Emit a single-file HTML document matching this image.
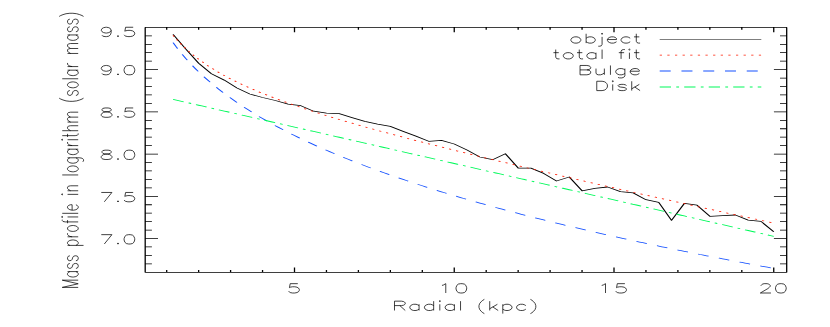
<!DOCTYPE html>
<html><head><meta charset="utf-8"><title>Mass profile</title>
<style>
html,body{margin:0;padding:0;background:#fff;font-family:"Liberation Sans",sans-serif;}
svg{display:block}
</style></head><body>
<svg width="830" height="327" viewBox="0 0 830 327">
<rect width="830" height="327" fill="#fff"/>
<g transform="scale(1.3,0.7715)" fill="none" stroke-linecap="butt" stroke-linejoin="round">
<path d="M111.69 35.52 L605.15 35.52 L605.15 352.95 L111.69 352.95 L111.69 35.52Z M128.23 352.95 L128.23 349.84 M128.23 35.52 L128.23 38.63 M152.81 352.95 L152.81 349.84 M152.81 35.52 L152.81 38.63 M177.38 352.95 L177.38 349.84 M177.38 35.52 L177.38 38.63 M201.96 352.95 L201.96 349.84 M201.96 35.52 L201.96 38.63 M226.54 352.95 L226.54 346.6 M226.54 35.52 L226.54 41.87 M251.12 352.95 L251.12 349.84 M251.12 35.52 L251.12 38.63 M275.69 352.95 L275.69 349.84 M275.69 35.52 L275.69 38.63 M300.27 352.95 L300.27 349.84 M300.27 35.52 L300.27 38.63 M324.85 352.95 L324.85 349.84 M324.85 35.52 L324.85 38.63 M349.42 352.95 L349.42 346.6 M349.42 35.52 L349.42 41.87 M374 352.95 L374 349.84 M374 35.52 L374 38.63 M398.58 352.95 L398.58 349.84 M398.58 35.52 L398.58 38.63 M423.15 352.95 L423.15 349.84 M423.15 35.52 L423.15 38.63 M447.73 352.95 L447.73 349.84 M447.73 35.52 L447.73 38.63 M472.31 352.95 L472.31 346.6 M472.31 35.52 L472.31 41.87 M496.88 352.95 L496.88 349.84 M496.88 35.52 L496.88 38.63 M521.46 352.95 L521.46 349.84 M521.46 35.52 L521.46 38.63 M546.04 352.95 L546.04 349.84 M546.04 35.52 L546.04 38.63 M570.62 352.95 L570.62 349.84 M570.62 35.52 L570.62 38.63 M595.19 352.95 L595.19 346.6 M595.19 35.52 L595.19 41.87 M111.69 342.01 L116.85 342.01 M605.15 342.01 L600 342.01 M111.69 331.06 L116.85 331.06 M605.15 331.06 L600 331.06 M111.69 320.12 L116.85 320.12 M605.15 320.12 L600 320.12 M111.69 309.17 L121.54 309.17 M605.15 309.17 L595.31 309.17 M111.69 298.22 L116.85 298.22 M605.15 298.22 L600 298.22 M111.69 287.28 L116.85 287.28 M605.15 287.28 L600 287.28 M111.69 276.33 L116.85 276.33 M605.15 276.33 L600 276.33 M111.69 265.39 L116.85 265.39 M605.15 265.39 L600 265.39 M111.69 254.44 L121.54 254.44 M605.15 254.44 L595.31 254.44 M111.69 243.49 L116.85 243.49 M605.15 243.49 L600 243.49 M111.69 232.55 L116.85 232.55 M605.15 232.55 L600 232.55 M111.69 221.6 L116.85 221.6 M605.15 221.6 L600 221.6 M111.69 210.65 L116.85 210.65 M605.15 210.65 L600 210.65 M111.69 199.71 L121.54 199.71 M605.15 199.71 L595.31 199.71 M111.69 188.76 L116.85 188.76 M605.15 188.76 L600 188.76 M111.69 177.82 L116.85 177.82 M605.15 177.82 L600 177.82 M111.69 166.87 L116.85 166.87 M605.15 166.87 L600 166.87 M111.69 155.92 L116.85 155.92 M605.15 155.92 L600 155.92 M111.69 144.98 L121.54 144.98 M605.15 144.98 L595.31 144.98 M111.69 134.03 L116.85 134.03 M605.15 134.03 L600 134.03 M111.69 123.08 L116.85 123.08 M605.15 123.08 L600 123.08 M111.69 112.14 L116.85 112.14 M605.15 112.14 L600 112.14 M111.69 101.19 L116.85 101.19 M605.15 101.19 L600 101.19 M111.69 90.25 L121.54 90.25 M605.15 90.25 L595.31 90.25 M111.69 79.3 L116.85 79.3 M605.15 79.3 L600 79.3 M111.69 68.35 L116.85 68.35 M605.15 68.35 L600 68.35 M111.69 57.41 L116.85 57.41 M605.15 57.41 L600 57.41 M111.69 46.46 L116.85 46.46 M605.15 46.46 L600 46.46" stroke="#000" stroke-width="1" />
<path d="M85.51 39.36 L84.92 41.1 L83.75 42.25 L82 42.83 L81.42 42.83 L79.66 42.25 L78.49 41.1 L77.91 39.36 L77.91 38.79 L78.49 37.06 L79.66 35.9 L81.42 35.33 L82 35.33 L83.75 35.9 L84.92 37.06 L85.51 39.36 L85.51 42.25 L84.92 45.13 L83.75 46.86 L82 47.44 L80.83 47.44 L79.08 46.86 L78.49 45.71 M90.77 46.29 L90.18 46.86 L90.77 47.44 L91.35 46.86 L90.77 46.29 M102.46 35.33 L96.62 35.33 L96.03 40.52 L96.62 39.94 L98.37 39.36 L100.12 39.36 L101.88 39.94 L103.05 41.1 L103.63 42.83 L103.63 43.98 L103.05 45.71 L101.88 46.86 L100.12 47.44 L98.37 47.44 L96.62 46.86 L96.03 46.29 L95.45 45.13 M85.51 88.88 L84.92 90.61 L83.75 91.76 L82 92.34 L81.42 92.34 L79.66 91.76 L78.49 90.61 L77.91 88.88 L77.91 88.3 L78.49 86.57 L79.66 85.42 L81.42 84.84 L82 84.84 L83.75 85.42 L84.92 86.57 L85.51 88.88 L85.51 91.76 L84.92 94.65 L83.75 96.38 L82 96.95 L80.83 96.95 L79.08 96.38 L78.49 95.22 M90.77 95.8 L90.18 96.38 L90.77 96.95 L91.35 96.38 L90.77 95.8 M98.95 84.84 L97.2 85.42 L96.03 87.15 L95.45 90.03 L95.45 91.76 L96.03 94.65 L97.2 96.38 L98.95 96.95 L100.12 96.95 L101.88 96.38 L103.05 94.65 L103.63 91.76 L103.63 90.03 L103.05 87.15 L101.88 85.42 L100.12 84.84 L98.95 84.84 M80.83 139.93 L79.08 140.51 L78.49 141.66 L78.49 142.81 L79.08 143.97 L80.25 144.54 L82.58 145.12 L84.34 145.7 L85.51 146.85 L86.09 148 L86.09 149.73 L85.51 150.89 L84.92 151.46 L83.17 152.04 L80.83 152.04 L79.08 151.46 L78.49 150.89 L77.91 149.73 L77.91 148 L78.49 146.85 L79.66 145.7 L81.42 145.12 L83.75 144.54 L84.92 143.97 L85.51 142.81 L85.51 141.66 L84.92 140.51 L83.17 139.93 L80.83 139.93 M90.77 150.89 L90.18 151.46 L90.77 152.04 L91.35 151.46 L90.77 150.89 M102.46 139.93 L96.62 139.93 L96.03 145.12 L96.62 144.54 L98.37 143.97 L100.12 143.97 L101.88 144.54 L103.05 145.7 L103.63 147.43 L103.63 148.58 L103.05 150.31 L101.88 151.46 L100.12 152.04 L98.37 152.04 L96.62 151.46 L96.03 150.89 L95.45 149.73 M80.83 194.63 L79.08 195.2 L78.49 196.36 L78.49 197.51 L79.08 198.66 L80.25 199.24 L82.58 199.82 L84.34 200.4 L85.51 201.55 L86.09 202.7 L86.09 204.43 L85.51 205.59 L84.92 206.16 L83.17 206.74 L80.83 206.74 L79.08 206.16 L78.49 205.59 L77.91 204.43 L77.91 202.7 L78.49 201.55 L79.66 200.4 L81.42 199.82 L83.75 199.24 L84.92 198.66 L85.51 197.51 L85.51 196.36 L84.92 195.2 L83.17 194.63 L80.83 194.63 M90.77 205.59 L90.18 206.16 L90.77 206.74 L91.35 206.16 L90.77 205.59 M98.95 194.63 L97.2 195.2 L96.03 196.93 L95.45 199.82 L95.45 201.55 L96.03 204.43 L97.2 206.16 L98.95 206.74 L100.12 206.74 L101.88 206.16 L103.05 204.43 L103.63 201.55 L103.63 199.82 L103.05 196.93 L101.88 195.2 L100.12 194.63 L98.95 194.63 M86.09 249.46 L80.25 261.57 M77.91 249.46 L86.09 249.46 M90.77 260.41 L90.18 260.99 L90.77 261.57 L91.35 260.99 L90.77 260.41 M102.46 249.46 L96.62 249.46 L96.03 254.65 L96.62 254.07 L98.37 253.49 L100.12 253.49 L101.88 254.07 L103.05 255.22 L103.63 256.95 L103.63 258.11 L103.05 259.84 L101.88 260.99 L100.12 261.57 L98.37 261.57 L96.62 260.99 L96.03 260.41 L95.45 259.26 M86.09 304.15 L80.25 316.27 M77.91 304.15 L86.09 304.15 M90.77 315.11 L90.18 315.69 L90.77 316.27 L91.35 315.69 L90.77 315.11 M98.95 304.15 L97.2 304.73 L96.03 306.46 L95.45 309.35 L95.45 311.08 L96.03 313.96 L97.2 315.69 L98.95 316.27 L100.12 316.27 L101.88 315.69 L103.05 313.96 L103.63 311.08 L103.63 309.35 L103.05 306.46 L101.88 304.73 L100.12 304.15 L98.95 304.15 M229.08 367.67 L223.23 367.67 L222.65 372.86 L223.23 372.28 L224.98 371.7 L226.74 371.7 L228.49 372.28 L229.66 373.43 L230.25 375.17 L230.25 376.32 L229.66 378.05 L228.49 379.2 L226.74 379.78 L224.98 379.78 L223.23 379.2 L222.65 378.63 L222.06 377.47 M339.98 369.97 L341.15 369.4 L342.9 367.67 L342.9 379.78 M354.3 367.67 L352.55 368.24 L351.38 369.97 L350.79 372.86 L350.79 374.59 L351.38 377.47 L352.55 379.2 L354.3 379.78 L355.47 379.78 L357.22 379.2 L358.39 377.47 L358.98 374.59 L358.98 372.86 L358.39 369.97 L357.22 368.24 L355.47 367.67 L354.3 367.67 M462.86 369.97 L464.03 369.4 L465.78 367.67 L465.78 379.78 M480.69 367.67 L474.85 367.67 L474.26 372.86 L474.85 372.28 L476.6 371.7 L478.35 371.7 L480.11 372.28 L481.28 373.43 L481.86 375.17 L481.86 376.32 L481.28 378.05 L480.11 379.2 L478.35 379.78 L476.6 379.78 L474.85 379.2 L474.26 378.63 L473.68 377.47 M585.45 370.55 L585.45 369.97 L586.04 368.82 L586.62 368.24 L587.79 367.67 L590.13 367.67 L591.3 368.24 L591.88 368.82 L592.47 369.97 L592.47 371.13 L591.88 372.28 L590.72 374.01 L584.87 379.78 L593.05 379.78 M600.07 367.67 L598.32 368.24 L597.15 369.97 L596.56 372.86 L596.56 374.59 L597.15 377.47 L598.32 379.2 L600.07 379.78 L601.24 379.78 L602.99 379.2 L604.16 377.47 L604.75 374.59 L604.75 372.86 L604.16 369.97 L602.99 368.24 L601.24 367.67 L600.07 367.67 M303.46 390.35 L303.46 402.46 M303.46 390.35 L308.77 390.35 L310.55 390.93 L311.14 391.5 L311.73 392.66 L311.73 393.81 L311.14 394.96 L310.55 395.54 L308.77 396.12 L303.46 396.12 M307.59 396.12 L311.73 402.46 M322.36 394.39 L322.36 402.46 M322.36 396.12 L321.18 394.96 L320 394.39 L318.23 394.39 L317.04 394.96 L315.86 396.12 L315.27 397.85 L315.27 399 L315.86 400.73 L317.04 401.89 L318.23 402.46 L320 402.46 L321.18 401.89 L322.36 400.73 M333.59 390.35 L333.59 402.46 M333.59 396.12 L332.4 394.96 L331.22 394.39 L329.45 394.39 L328.27 394.96 L327.09 396.12 L326.5 397.85 L326.5 399 L327.09 400.73 L328.27 401.89 L329.45 402.46 L331.22 402.46 L332.4 401.89 L333.59 400.73 M337.72 390.35 L338.31 390.93 L338.9 390.35 L338.31 389.77 L337.72 390.35 M338.31 394.39 L338.31 402.46 M349.54 394.39 L349.54 402.46 M349.54 396.12 L348.36 394.96 L347.17 394.39 L345.4 394.39 L344.22 394.96 L343.04 396.12 L342.45 397.85 L342.45 399 L343.04 400.73 L344.22 401.89 L345.4 402.46 L347.17 402.46 L348.36 401.89 L349.54 400.73 M354.26 390.35 L354.26 402.46 M372.58 388.04 L371.4 389.2 L370.21 390.93 L369.03 393.23 L368.44 396.12 L368.44 398.43 L369.03 401.31 L370.21 403.62 L371.4 405.35 L372.58 406.5 M376.71 390.35 L376.71 402.46 M382.62 394.39 L376.71 400.16 M379.08 397.85 L383.21 402.46 M386.76 394.39 L386.76 406.5 M386.76 396.12 L387.94 394.96 L389.12 394.39 L390.89 394.39 L392.07 394.96 L393.25 396.12 L393.84 397.85 L393.84 399 L393.25 400.73 L392.07 401.89 L390.89 402.46 L389.12 402.46 L387.94 401.89 L386.76 400.73 M404.48 396.12 L403.3 394.96 L402.12 394.39 L400.34 394.39 L399.16 394.96 L397.98 396.12 L397.39 397.85 L397.39 399 L397.98 400.73 L399.16 401.89 L400.34 402.46 L402.12 402.46 L403.3 401.89 L404.48 400.73 M408.02 388.04 L409.2 389.2 L410.39 390.93 L411.57 393.23 L412.16 396.12 L412.16 398.43 L411.57 401.31 L410.39 403.62 L409.2 405.35 L408.02 406.5 M47.88 372.51 L60.15 372.51 M47.88 372.51 L60.15 367.83 M47.88 363.15 L60.15 367.83 M47.88 363.15 L60.15 363.15 M51.97 352.03 L60.15 352.03 M53.72 352.03 L52.55 353.2 L51.97 354.37 L51.97 356.12 L52.55 357.29 L53.72 358.46 L55.48 359.05 L56.65 359.05 L58.4 358.46 L59.57 357.29 L60.15 356.12 L60.15 354.37 L59.57 353.2 L58.4 352.03 M53.72 341.49 L52.55 342.07 L51.97 343.83 L51.97 345.59 L52.55 347.34 L53.72 347.93 L54.89 347.34 L55.48 346.17 L56.06 343.25 L56.65 342.07 L57.82 341.49 L58.4 341.49 L59.57 342.07 L60.15 343.83 L60.15 345.59 L59.57 347.34 L58.4 347.93 M53.72 331.54 L52.55 332.12 L51.97 333.88 L51.97 335.64 L52.55 337.39 L53.72 337.98 L54.89 337.39 L55.48 336.22 L56.06 333.29 L56.65 332.12 L57.82 331.54 L58.4 331.54 L59.57 332.12 L60.15 333.88 L60.15 335.64 L59.57 337.39 L58.4 337.98 M51.97 318.07 L64.25 318.07 M53.72 318.07 L52.55 316.9 L51.97 315.73 L51.97 313.98 L52.55 312.81 L53.72 311.64 L55.48 311.05 L56.65 311.05 L58.4 311.64 L59.57 312.81 L60.15 313.98 L60.15 315.73 L59.57 316.9 L58.4 318.07 M51.97 306.95 L60.15 306.95 M55.48 306.95 L53.72 306.37 L52.55 305.2 L51.97 304.03 L51.97 302.27 M51.97 297 L52.55 298.17 L53.72 299.34 L55.48 299.93 L56.65 299.93 L58.4 299.34 L59.57 298.17 L60.15 297 L60.15 295.25 L59.57 294.08 L58.4 292.9 L56.65 292.32 L55.48 292.32 L53.72 292.9 L52.55 294.08 L51.97 295.25 L51.97 297 M47.88 284.71 L47.88 285.88 L48.46 287.05 L50.22 287.64 L60.15 287.64 M51.97 289.39 L51.97 285.3 M47.88 281.78 L48.46 281.2 L47.88 280.61 L47.29 281.2 L47.88 281.78 M51.97 281.2 L60.15 281.2 M47.88 276.51 L60.15 276.51 M55.48 272.42 L55.48 265.39 L54.31 265.39 L53.14 265.98 L52.55 266.56 L51.97 267.73 L51.97 269.49 L52.55 270.66 L53.72 271.83 L55.48 272.42 L56.65 272.42 L58.4 271.83 L59.57 270.66 L60.15 269.49 L60.15 267.73 L59.57 266.56 L58.4 265.39 M47.88 252.52 L48.46 251.93 L47.88 251.34 L47.29 251.93 L47.88 252.52 M51.97 251.93 L60.15 251.93 M51.97 247.25 L60.15 247.25 M54.31 247.25 L52.55 245.49 L51.97 244.32 L51.97 242.56 L52.55 241.39 L54.31 240.81 L60.15 240.81 M47.88 226.76 L60.15 226.76 M51.97 219.74 L52.55 220.91 L53.72 222.08 L55.48 222.66 L56.65 222.66 L58.4 222.08 L59.57 220.91 L60.15 219.74 L60.15 217.98 L59.57 216.81 L58.4 215.64 L56.65 215.05 L55.48 215.05 L53.72 215.64 L52.55 216.81 L51.97 217.98 L51.97 219.74 M51.97 204.52 L61.32 204.52 L63.08 205.1 L63.66 205.69 L64.25 206.86 L64.25 208.61 L63.66 209.78 M53.72 204.52 L52.55 205.69 L51.97 206.86 L51.97 208.61 L52.55 209.78 L53.72 210.96 L55.48 211.54 L56.65 211.54 L58.4 210.96 L59.57 209.78 L60.15 208.61 L60.15 206.86 L59.57 205.69 L58.4 204.52 M51.97 193.39 L60.15 193.39 M53.72 193.39 L52.55 194.57 L51.97 195.74 L51.97 197.49 L52.55 198.66 L53.72 199.83 L55.48 200.42 L56.65 200.42 L58.4 199.83 L59.57 198.66 L60.15 197.49 L60.15 195.74 L59.57 194.57 L58.4 193.39 M51.97 188.71 L60.15 188.71 M55.48 188.71 L53.72 188.13 L52.55 186.96 L51.97 185.79 L51.97 184.03 M47.88 181.69 L48.46 181.1 L47.88 180.52 L47.29 181.1 L47.88 181.69 M51.97 181.1 L60.15 181.1 M47.88 175.83 L57.82 175.83 L59.57 175.25 L60.15 174.08 L60.15 172.91 M51.97 177.59 L51.97 173.49 M47.88 169.4 L60.15 169.4 M54.31 169.4 L52.55 167.64 L51.97 166.47 L51.97 164.71 L52.55 163.54 L54.31 162.96 L60.15 162.96 M51.97 158.27 L60.15 158.27 M54.31 158.27 L52.55 156.52 L51.97 155.35 L51.97 153.59 L52.55 152.42 L54.31 151.83 L60.15 151.83 M54.31 151.83 L52.55 150.08 L51.97 148.91 L51.97 147.15 L52.55 145.98 L54.31 145.4 L60.15 145.4 M45.54 127.25 L46.71 128.42 L48.46 129.59 L50.8 130.76 L53.72 131.35 L56.06 131.35 L58.98 130.76 L61.32 129.59 L63.08 128.42 L64.25 127.25 M53.72 117.3 L52.55 117.88 L51.97 119.64 L51.97 121.4 L52.55 123.15 L53.72 123.74 L54.89 123.15 L55.48 121.98 L56.06 119.05 L56.65 117.88 L57.82 117.3 L58.4 117.3 L59.57 117.88 L60.15 119.64 L60.15 121.4 L59.57 123.15 L58.4 123.74 M51.97 110.86 L52.55 112.03 L53.72 113.2 L55.48 113.79 L56.65 113.79 L58.4 113.2 L59.57 112.03 L60.15 110.86 L60.15 109.1 L59.57 107.93 L58.4 106.76 L56.65 106.18 L55.48 106.18 L53.72 106.76 L52.55 107.93 L51.97 109.1 L51.97 110.86 M47.88 102.08 L60.15 102.08 M51.97 90.96 L60.15 90.96 M53.72 90.96 L52.55 92.13 L51.97 93.3 L51.97 95.06 L52.55 96.23 L53.72 97.4 L55.48 97.98 L56.65 97.98 L58.4 97.4 L59.57 96.23 L60.15 95.06 L60.15 93.3 L59.57 92.13 L58.4 90.96 M51.97 86.28 L60.15 86.28 M55.48 86.28 L53.72 85.69 L52.55 84.52 L51.97 83.35 L51.97 81.59 M51.97 69.3 L60.15 69.3 M54.31 69.3 L52.55 67.54 L51.97 66.37 L51.97 64.62 L52.55 63.45 L54.31 62.86 L60.15 62.86 M54.31 62.86 L52.55 61.1 L51.97 59.93 L51.97 58.18 L52.55 57.01 L54.31 56.42 L60.15 56.42 M51.97 45.3 L60.15 45.3 M53.72 45.3 L52.55 46.47 L51.97 47.64 L51.97 49.4 L52.55 50.57 L53.72 51.74 L55.48 52.32 L56.65 52.32 L58.4 51.74 L59.57 50.57 L60.15 49.4 L60.15 47.64 L59.57 46.47 L58.4 45.3 M53.72 34.76 L52.55 35.35 L51.97 37.11 L51.97 38.86 L52.55 40.62 L53.72 41.2 L54.89 40.62 L55.48 39.45 L56.06 36.52 L56.65 35.35 L57.82 34.76 L58.4 34.76 L59.57 35.35 L60.15 37.11 L60.15 38.86 L59.57 40.62 L58.4 41.2 M53.72 24.81 L52.55 25.4 L51.97 27.15 L51.97 28.91 L52.55 30.67 L53.72 31.25 L54.89 30.67 L55.48 29.5 L56.06 26.57 L56.65 25.4 L57.82 24.81 L58.4 24.81 L59.57 25.4 L60.15 27.15 L60.15 28.91 L59.57 30.67 L58.4 31.25 M45.54 21.3 L46.71 20.13 L48.46 18.96 L50.8 17.79 L53.72 17.2 L56.06 17.2 L58.98 17.79 L61.32 18.96 L63.08 20.13 L64.25 21.3 M442.09 47.79 L440.92 48.37 L439.75 49.52 L439.17 51.25 L439.17 52.4 L439.75 54.13 L440.92 55.29 L442.09 55.87 L443.85 55.87 L445.02 55.29 L446.18 54.13 L446.77 52.4 L446.77 51.25 L446.18 49.52 L445.02 48.37 L443.85 47.79 L442.09 47.79 M450.86 43.75 L450.86 55.87 M450.86 49.52 L452.03 48.37 L453.2 47.79 L454.95 47.79 L456.12 48.37 L457.29 49.52 L457.88 51.25 L457.88 52.4 L457.29 54.13 L456.12 55.29 L454.95 55.87 L453.2 55.87 L452.03 55.29 L450.86 54.13 M462.55 43.75 L463.14 44.33 L463.72 43.75 L463.14 43.18 L462.55 43.75 M463.14 47.79 L463.14 57.6 L462.55 59.33 L461.38 59.9 L460.22 59.9 M467.23 51.25 L474.25 51.25 L474.25 50.1 L473.66 48.94 L473.08 48.37 L471.91 47.79 L470.15 47.79 L468.98 48.37 L467.82 49.52 L467.23 51.25 L467.23 52.4 L467.82 54.13 L468.98 55.29 L470.15 55.87 L471.91 55.87 L473.08 55.29 L474.25 54.13 M484.77 49.52 L483.6 48.37 L482.43 47.79 L480.68 47.79 L479.51 48.37 L478.34 49.52 L477.75 51.25 L477.75 52.4 L478.34 54.13 L479.51 55.29 L480.68 55.87 L482.43 55.87 L483.6 55.29 L484.77 54.13 M489.45 43.75 L489.45 53.56 L490.03 55.29 L491.2 55.87 L492.37 55.87 M487.69 47.79 L491.78 47.79 M427.48 64.23 L427.48 74.04 L428.06 75.77 L429.23 76.34 L430.4 76.34 M425.72 68.27 L429.82 68.27 M436.25 68.27 L435.08 68.85 L433.91 70 L433.32 71.73 L433.32 72.88 L433.91 74.61 L435.08 75.77 L436.25 76.34 L438 76.34 L439.17 75.77 L440.34 74.61 L440.92 72.88 L440.92 71.73 L440.34 70 L439.17 68.85 L438 68.27 L436.25 68.27 M445.6 64.23 L445.6 74.04 L446.18 75.77 L447.35 76.34 L448.52 76.34 M443.85 68.27 L447.94 68.27 M458.46 68.27 L458.46 76.34 M458.46 70 L457.29 68.85 L456.12 68.27 L454.37 68.27 L453.2 68.85 L452.03 70 L451.45 71.73 L451.45 72.88 L452.03 74.61 L453.2 75.77 L454.37 76.34 L456.12 76.34 L457.29 75.77 L458.46 74.61 M463.14 64.23 L463.14 76.34 M480.68 64.23 L479.51 64.23 L478.34 64.81 L477.75 66.54 L477.75 76.34 M476 68.27 L480.09 68.27 M483.6 64.23 L484.18 64.81 L484.77 64.23 L484.18 63.66 L483.6 64.23 M484.18 68.27 L484.18 76.34 M489.45 64.23 L489.45 74.04 L490.03 75.77 L491.2 76.34 L492.37 76.34 M487.69 68.27 L491.78 68.27 M446.18 84.84 L446.18 96.95 M446.18 84.84 L451.45 84.84 L453.2 85.42 L453.78 85.99 L454.37 87.15 L454.37 88.3 L453.78 89.46 L453.2 90.03 L451.45 90.61 M446.18 90.61 L451.45 90.61 L453.2 91.19 L453.78 91.76 L454.37 92.92 L454.37 94.65 L453.78 95.8 L453.2 96.38 L451.45 96.95 L446.18 96.95 M458.46 88.88 L458.46 94.65 L459.05 96.38 L460.22 96.95 L461.97 96.95 L463.14 96.38 L464.89 94.65 M464.89 88.88 L464.89 96.95 M469.57 84.84 L469.57 96.95 M480.68 88.88 L480.68 98.11 L480.09 99.84 L479.51 100.41 L478.34 100.99 L476.58 100.99 L475.42 100.41 M480.68 90.61 L479.51 89.46 L478.34 88.88 L476.58 88.88 L475.42 89.46 L474.25 90.61 L473.66 92.34 L473.66 93.49 L474.25 95.22 L475.42 96.38 L476.58 96.95 L478.34 96.95 L479.51 96.38 L480.68 95.22 M484.77 92.34 L491.78 92.34 L491.78 91.19 L491.2 90.03 L490.62 89.46 L489.45 88.88 L487.69 88.88 L486.52 89.46 L485.35 90.61 L484.77 92.34 L484.77 93.49 L485.35 95.22 L486.52 96.38 L487.69 96.95 L489.45 96.95 L490.62 96.38 L491.78 95.22 M459.05 105.32 L459.05 117.43 M459.05 105.32 L463.14 105.32 L464.89 105.9 L466.06 107.05 L466.65 108.2 L467.23 109.94 L467.23 112.82 L466.65 114.55 L466.06 115.7 L464.89 116.86 L463.14 117.43 L459.05 117.43 M470.74 105.32 L471.32 105.9 L471.91 105.32 L471.32 104.74 L470.74 105.32 M471.32 109.36 L471.32 117.43 M481.85 111.09 L481.26 109.94 L479.51 109.36 L477.75 109.36 L476 109.94 L475.42 111.09 L476 112.24 L477.17 112.82 L480.09 113.4 L481.26 113.97 L481.85 115.13 L481.85 115.7 L481.26 116.86 L479.51 117.43 L477.75 117.43 L476 116.86 L475.42 115.7 M485.94 105.32 L485.94 117.43 M491.78 109.36 L485.94 115.13 M488.28 112.82 L492.37 117.43" stroke="#000" stroke-width="0.72" />
<path d="M133.15 44.59 L142.98 63.64 L152.81 82.05 L162.64 95.66 L172.47 103.82 L182.3 114.06 L192.13 121.84 L201.96 126.38 L211.79 130.27 L221.62 134.93 L231.45 137.01 L241.28 144.13 L251.12 146.73 L260.95 147.38 L270.78 152.43 L280.61 157.23 L290.44 160.86 L300.27 163.84 L310.1 170.19 L319.93 176.41 L329.76 183.15 L339.59 181.98 L349.42 186.65 L359.25 194.43 L369.08 203.5 L378.92 207 L388.75 199.22 L398.58 217.76 L408.41 217.89 L418.24 224.76 L428.07 234.61 L437.9 229.42 L447.73 247.31 L457.56 244.07 L467.39 242.38 L477.22 248.48 L487.05 250.03 L496.88 258.85 L506.72 262.22 L516.55 285.55 L526.38 263.77 L536.21 265.98 L546.04 280.36 L555.87 279.46 L565.7 278.68 L575.53 285.29 L585.36 286.97 L595.19 300.45" stroke="#000" stroke-width="1" />
<path d="M133.15 45.93 L135.6 50.65 L138.06 55.06 L140.52 59.2 L142.98 63.09 L145.43 66.78 L147.89 70.27 L150.35 73.58 L152.81 76.75 L155.27 79.76 L157.72 82.65 L160.18 85.43 L162.64 88.09 L165.1 90.65 L167.55 93.13 L170.01 95.51 L172.47 97.82 L174.93 100.06 L177.38 102.23 L179.84 104.33 L182.3 106.38 L184.76 108.37 L187.22 110.31 L189.67 112.21 L192.13 114.05 L194.59 115.86 L197.05 117.63 L199.5 119.36 L201.96 121.05 L204.42 122.71 L206.88 124.34 L209.33 125.94 L211.79 127.51 L214.25 129.06 L216.71 130.58 L219.17 132.08 L221.62 133.55 L224.08 135.01 L226.54 136.44 L229 137.86 L231.45 139.25 L233.91 140.63 L236.37 141.99 L238.83 143.34 L241.28 144.67 L243.74 145.99 L246.2 147.29 L248.66 148.58 L251.12 149.86 L253.57 151.13 L256.03 152.38 L258.49 153.63 L260.95 154.86 L263.4 156.08 L265.86 157.3 L268.32 158.5 L270.78 159.69 L273.23 160.88 L275.69 162.06 L278.15 163.23 L280.61 164.39 L283.07 165.55 L285.52 166.7 L287.98 167.84 L290.44 168.98 L292.9 170.11 L295.35 171.23 L297.81 172.35 L300.27 173.46 L302.73 174.56 L305.18 175.66 L307.64 176.76 L310.1 177.85 L312.56 178.94 L315.02 180.02 L317.47 181.1 L319.93 182.17 L322.39 183.24 L324.85 184.3 L327.3 185.36 L329.76 186.42 L332.22 187.47 L334.68 188.52 L337.13 189.57 L339.59 190.61 L342.05 191.65 L344.51 192.68 L346.97 193.72 L349.42 194.75 L351.88 195.77 L354.34 196.8 L356.8 197.82 L359.25 198.84 L361.71 199.85 L364.17 200.87 L366.63 201.88 L369.08 202.89 L371.54 203.89 L374 204.89 L376.46 205.9 L378.92 206.89 L381.37 207.89 L383.83 208.89 L386.29 209.88 L388.75 210.87 L391.2 211.86 L393.66 212.84 L396.12 213.83 L398.58 214.81 L401.03 215.79 L403.49 216.77 L405.95 217.75 L408.41 218.72 L410.87 219.69 L413.32 220.67 L415.78 221.64 L418.24 222.61 L420.7 223.57 L423.15 224.54 L425.61 225.5 L428.07 226.46 L430.53 227.42 L432.98 228.38 L435.44 229.34 L437.9 230.3 L440.36 231.25 L442.82 232.21 L445.27 233.16 L447.73 234.11 L450.19 235.06 L452.65 236.01 L455.1 236.95 L457.56 237.9 L460.02 238.85 L462.48 239.79 L464.93 240.73 L467.39 241.67 L469.85 242.61 L472.31 243.55 L474.77 244.49 L477.22 245.42 L479.68 246.36 L482.14 247.29 L484.6 248.22 L487.05 249.15 L489.51 250.08 L491.97 251.01 L494.43 251.94 L496.88 252.87 L499.34 253.79 L501.8 254.72 L504.26 255.64 L506.72 256.57 L509.17 257.49 L511.63 258.41 L514.09 259.33 L516.55 260.25 L519 261.16 L521.46 262.08 L523.92 262.99 L526.38 263.91 L528.83 264.82 L531.29 265.74 L533.75 266.65 L536.21 267.56 L538.67 268.47 L541.12 269.37 L543.58 270.28 L546.04 271.19 L548.5 272.09 L550.95 273 L553.41 273.9 L555.87 274.8 L558.33 275.71 L560.78 276.61 L563.24 277.51 L565.7 278.41 L568.16 279.3 L570.62 280.2 L573.07 281.1 L575.53 281.99 L577.99 282.88 L580.45 283.78 L582.9 284.67 L585.36 285.56 L587.82 286.45 L590.28 287.34 L592.73 288.23 L595.19 289.11" stroke="#ff1a00" stroke-width="1" stroke-dasharray="1.75 4.115" stroke-dashoffset="0.1"/>
<path d="M133.15 55.26 L135.6 60.84 L138.06 66.12 L140.52 71.13 L142.98 75.9 L145.43 80.46 L147.89 84.83 L150.35 89.03 L152.81 93.07 L155.27 96.97 L157.72 100.73 L160.18 104.38 L162.64 107.9 L165.1 111.33 L167.55 114.65 L170.01 117.89 L172.47 121.04 L174.93 124.1 L177.38 127.1 L179.84 130.02 L182.3 132.87 L184.76 135.66 L187.22 138.39 L189.67 141.06 L192.13 143.67 L194.59 146.24 L197.05 148.75 L199.5 151.22 L201.96 153.64 L204.42 156.02 L206.88 158.35 L209.33 160.65 L211.79 162.9 L214.25 165.12 L216.71 167.31 L219.17 169.46 L221.62 171.58 L224.08 173.66 L226.54 175.72 L229 177.74 L231.45 179.74 L233.91 181.71 L236.37 183.65 L238.83 185.57 L241.28 187.46 L243.74 189.33 L246.2 191.17 L248.66 192.99 L251.12 194.79 L253.57 196.57 L256.03 198.32 L258.49 200.06 L260.95 201.78 L263.4 203.47 L265.86 205.15 L268.32 206.81 L270.78 208.45 L273.23 210.07 L275.69 211.68 L278.15 213.27 L280.61 214.84 L283.07 216.4 L285.52 217.94 L287.98 219.47 L290.44 220.99 L292.9 222.48 L295.35 223.97 L297.81 225.44 L300.27 226.9 L302.73 228.34 L305.18 229.77 L307.64 231.19 L310.1 232.6 L312.56 233.99 L315.02 235.37 L317.47 236.75 L319.93 238.1 L322.39 239.45 L324.85 240.79 L327.3 242.12 L329.76 243.43 L332.22 244.74 L334.68 246.03 L337.13 247.32 L339.59 248.6 L342.05 249.86 L344.51 251.12 L346.97 252.37 L349.42 253.61 L351.88 254.83 L354.34 256.06 L356.8 257.27 L359.25 258.47 L361.71 259.67 L364.17 260.85 L366.63 262.03 L369.08 263.2 L371.54 264.37 L374 265.52 L376.46 266.67 L378.92 267.81 L381.37 268.94 L383.83 270.07 L386.29 271.19 L388.75 272.3 L391.2 273.4 L393.66 274.5 L396.12 275.59 L398.58 276.68 L401.03 277.75 L403.49 278.82 L405.95 279.89 L408.41 280.95 L410.87 282 L413.32 283.05 L415.78 284.09 L418.24 285.12 L420.7 286.15 L423.15 287.17 L425.61 288.19 L428.07 289.2 L430.53 290.21 L432.98 291.21 L435.44 292.2 L437.9 293.19 L440.36 294.18 L442.82 295.16 L445.27 296.13 L447.73 297.1 L450.19 298.07 L452.65 299.03 L455.1 299.98 L457.56 300.93 L460.02 301.87 L462.48 302.81 L464.93 303.75 L467.39 304.68 L469.85 305.61 L472.31 306.53 L474.77 307.45 L477.22 308.36 L479.68 309.27 L482.14 310.17 L484.6 311.07 L487.05 311.97 L489.51 312.86 L491.97 313.75 L494.43 314.63 L496.88 315.51 L499.34 316.38 L501.8 317.26 L504.26 318.12 L506.72 318.99 L509.17 319.85 L511.63 320.7 L514.09 321.56 L516.55 322.4 L519 323.25 L521.46 324.09 L523.92 324.93 L526.38 325.76 L528.83 326.59 L531.29 327.42 L533.75 328.25 L536.21 329.07 L538.67 329.88 L541.12 330.7 L543.58 331.51 L546.04 332.31 L548.5 333.12 L550.95 333.92 L553.41 334.72 L555.87 335.51 L558.33 336.3 L560.78 337.09 L563.24 337.88 L565.7 338.66 L568.16 339.44 L570.62 340.21 L573.07 340.99 L575.53 341.76 L577.99 342.52 L580.45 343.29 L582.9 344.05 L585.36 344.81 L587.82 345.56 L590.28 346.32 L592.73 347.07 L595.19 347.81" stroke="#1450ff" stroke-width="1" stroke-dasharray="8.46 8.28"/>
<path d="M133.15 128.83 L135.6 129.78 L138.06 130.72 L140.52 131.66 L142.98 132.61 L145.43 133.55 L147.89 134.5 L150.35 135.44 L152.81 136.39 L155.27 137.33 L157.72 138.28 L160.18 139.22 L162.64 140.16 L165.1 141.11 L167.55 142.05 L170.01 143 L172.47 143.94 L174.93 144.89 L177.38 145.83 L179.84 146.77 L182.3 147.72 L184.76 148.66 L187.22 149.61 L189.67 150.55 L192.13 151.5 L194.59 152.44 L197.05 153.38 L199.5 154.33 L201.96 155.27 L204.42 156.22 L206.88 157.16 L209.33 158.11 L211.79 159.05 L214.25 159.99 L216.71 160.94 L219.17 161.88 L221.62 162.83 L224.08 163.77 L226.54 164.72 L229 165.66 L231.45 166.6 L233.91 167.55 L236.37 168.49 L238.83 169.44 L241.28 170.38 L243.74 171.33 L246.2 172.27 L248.66 173.21 L251.12 174.16 L253.57 175.1 L256.03 176.05 L258.49 176.99 L260.95 177.94 L263.4 178.88 L265.86 179.83 L268.32 180.77 L270.78 181.71 L273.23 182.66 L275.69 183.6 L278.15 184.55 L280.61 185.49 L283.07 186.44 L285.52 187.38 L287.98 188.32 L290.44 189.27 L292.9 190.21 L295.35 191.16 L297.81 192.1 L300.27 193.05 L302.73 193.99 L305.18 194.93 L307.64 195.88 L310.1 196.82 L312.56 197.77 L315.02 198.71 L317.47 199.66 L319.93 200.6 L322.39 201.54 L324.85 202.49 L327.3 203.43 L329.76 204.38 L332.22 205.32 L334.68 206.27 L337.13 207.21 L339.59 208.15 L342.05 209.1 L344.51 210.04 L346.97 210.99 L349.42 211.93 L351.88 212.88 L354.34 213.82 L356.8 214.76 L359.25 215.71 L361.71 216.65 L364.17 217.6 L366.63 218.54 L369.08 219.49 L371.54 220.43 L374 221.38 L376.46 222.32 L378.92 223.26 L381.37 224.21 L383.83 225.15 L386.29 226.1 L388.75 227.04 L391.2 227.99 L393.66 228.93 L396.12 229.87 L398.58 230.82 L401.03 231.76 L403.49 232.71 L405.95 233.65 L408.41 234.6 L410.87 235.54 L413.32 236.48 L415.78 237.43 L418.24 238.37 L420.7 239.32 L423.15 240.26 L425.61 241.21 L428.07 242.15 L430.53 243.09 L432.98 244.04 L435.44 244.98 L437.9 245.93 L440.36 246.87 L442.82 247.82 L445.27 248.76 L447.73 249.7 L450.19 250.65 L452.65 251.59 L455.1 252.54 L457.56 253.48 L460.02 254.43 L462.48 255.37 L464.93 256.31 L467.39 257.26 L469.85 258.2 L472.31 259.15 L474.77 260.09 L477.22 261.04 L479.68 261.98 L482.14 262.93 L484.6 263.87 L487.05 264.81 L489.51 265.76 L491.97 266.7 L494.43 267.65 L496.88 268.59 L499.34 269.54 L501.8 270.48 L504.26 271.42 L506.72 272.37 L509.17 273.31 L511.63 274.26 L514.09 275.2 L516.55 276.15 L519 277.09 L521.46 278.03 L523.92 278.98 L526.38 279.92 L528.83 280.87 L531.29 281.81 L533.75 282.76 L536.21 283.7 L538.67 284.64 L541.12 285.59 L543.58 286.53 L546.04 287.48 L548.5 288.42 L550.95 289.37 L553.41 290.31 L555.87 291.25 L558.33 292.2 L560.78 293.14 L563.24 294.09 L565.7 295.03 L568.16 295.98 L570.62 296.92 L573.07 297.86 L575.53 298.81 L577.99 299.75 L580.45 300.7 L582.9 301.64 L585.36 302.59 L587.82 303.53 L590.28 304.48 L592.73 305.42 L595.19 306.36" stroke="#00fa5a" stroke-width="1.15" stroke-dasharray="8.7 4.05 2.15 3.95"/>
<path d="M507.46 50.81 L585.62 50.81" stroke="#000" stroke-width="0.8" />
<path d="M507.46 71.48 L585.62 71.48" stroke="#ff1a00" stroke-width="1" stroke-dasharray="1.75 4.115"/>
<path d="M507.46 92.03 L585.62 92.03" stroke="#1450ff" stroke-width="1" stroke-dasharray="8.46 8.28"/>
<path d="M507.46 112.7 L585.62 112.7" stroke="#00fa5a" stroke-width="1.45" stroke-dasharray="8.7 4.05 2.15 3.95"/>
</g>
</svg>
</body></html>
